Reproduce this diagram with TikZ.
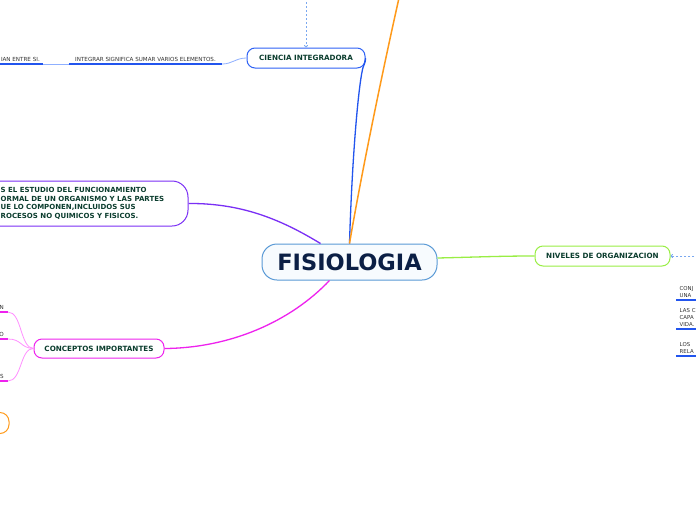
\documentclass[tikz,border=0pt]{standalone}
\usepackage{fontspec}
\setmainfont{DejaVu Sans}
\usetikzlibrary{arrows.meta}
\definecolor{fisborder}{HTML}{5A9AD6}
\definecolor{fisfill}{HTML}{F7FBFE}
\definecolor{fistext}{HTML}{0B1F45}
\definecolor{nodetxt}{HTML}{0B3D2E}
\definecolor{smalltxt}{HTML}{333333}
\definecolor{cblue}{HTML}{2F62F5}
\definecolor{cblueline}{HTML}{2255EE}
\definecolor{cbluelight}{HTML}{8FB0FF}
\definecolor{corange}{HTML}{FF9A1A}
\definecolor{cpurple}{HTML}{7A2FF5}
\definecolor{cmagenta}{HTML}{EE22EE}
\definecolor{cpink}{HTML}{FF90FF}
\definecolor{cgreen}{HTML}{99EE44}
\definecolor{cdash}{HTML}{7AA8F0}
\begin{document}
\begin{tikzpicture}[x=1pt,y=-1pt,
  box/.style={draw, line width=1pt, rounded corners=8pt, minimum height=20pt, inner sep=0pt,
    font=\bfseries\fontsize{7.2}{8}\selectfont, text=nodetxt},
  small/.style={font=\fontsize{5.6}{7}\selectfont, text=smalltxt, inner xsep=0pt, inner ysep=2pt},
  rsmall/.style={small, font=\fontsize{5.4}{7}\selectfont, align=left, text width=26pt, inner xsep=3.5pt, inner ysep=2pt, anchor=south west},
  conn/.style={line width=1.3pt},
  uline/.style={line width=1.8pt},
  dashconn/.style={draw=cdash, line width=0.8pt, dash pattern=on 2pt off 2pt, -{To[length=2.5pt,width=4pt]}}
]
\useasboundingbox (0,0) rectangle (696,520);
\clip (0,0) rectangle (696,520);
\fill[white] (0,0) rectangle (696,520);

% central node
\node[draw=fisborder, fill=fisfill, line width=1pt, rounded corners=15pt, minimum width=175pt, minimum height=36pt,
  inner sep=0pt, font=\bfseries\fontsize{22.5}{26}\selectfont, text=fistext] (fis) at (349.5,262) {FISIOLOGIA};

% ciencia integradora
\node[box, draw=cblue, minimum width=118pt] (ci) at (306,58) {CIENCIA INTEGRADORA};
\coordinate (ctop) at (306,-2);
\draw[dashconn] (ctop) -- (ci.north);
\draw[conn, cblueline] (fis.north) .. controls (352,160) and (358,90) .. ([xshift=-3pt,yshift=-1pt]ci.south east) .. controls (363,66) and (366,62) .. (ci.east);

% orange branch
\coordinate (otop) at (399,-2);
\draw[line width=1.5pt, corange] (fis.north) .. controls (362,170) and (385,60) .. (otop);

% integrar texts
\node[small, anchor=south, minimum width=153pt] (int) at (145.5,64) {INTEGRAR SIGNIFICA SUMAR VARIOS ELEMENTOS.};
\node[small, anchor=south east, inner xsep=3pt] (sis) at (43,64) {IAN ENTRE SI.};
\draw[line width=0.8pt, cbluelight] (ci.west) .. controls (236,58) and (232,64) .. (int.south east);
\draw[uline, cblueline] (int.south west) -- (int.south east);
\draw[uline, cblueline] (sis.south west) -- (sis.south east);
\draw[line width=0.6pt, cbluelight] (sis.south east) -- (int.south west);

% purple definition node
\node[draw=cpurple, line width=1pt, rounded corners=16pt, minimum width=228pt, minimum height=45pt, inner sep=0pt] (pur) at (74,203.5) {};
\node[anchor=west, align=left, inner sep=0pt, font=\bfseries\fontsize{7}{8.7}\selectfont, text=nodetxt] (purtxt) at (0.5,203.5)
  {S EL ESTUDIO DEL FUNCIONAMIENTO\\ORMAL DE UN ORGANISMO Y LAS PARTES\\UE LO COMPONEN,INCLUIDOS SUS\\ROCESOS NO QUIMICOS Y FISICOS.};
\draw[conn, cpurple] (pur.east) .. controls (245,203) and (285,222) .. ([xshift=-29pt]fis.north);

% conceptos importantes
\node[box, draw=cmagenta, minimum width=130pt, minimum height=19pt] (con) at (99,348.5) {CONCEPTOS IMPORTANTES};
\draw[conn, cmagenta] (con.east) .. controls (230,348) and (290,322) .. ([xshift=-20pt]fis.south);
\node[small, anchor=south east, inner xsep=4pt] (k1) at (8,312) {N};
\node[small, anchor=south east, inner xsep=4pt] (k2) at (8,339) {O};
\node[small, anchor=south east, inner xsep=4pt] (k3) at (8,381) {S};
\foreach \k in {k1,k2,k3}{
  \draw[uline, cmagenta] (\k.south west) -- (\k.south east);
  \draw[line width=0.8pt, cpink] (\k.south east) .. controls (22,0 |- \k.south east) and (20,348) .. (con.west);
}

% orange partial node
\node[draw=corange, line width=1pt, rounded corners=9pt, minimum width=40pt, minimum height=21pt, inner sep=0pt] (orn) at (-11,423) {};

% niveles de organizacion
\node[box, draw=cgreen, minimum width=135pt] (niv) at (602.5,256) {NIVELES DE ORGANIZACION};
\draw[conn, cgreen] ([yshift=4pt]fis.east) .. controls (480,257) and (500,256) .. (niv.west);
\coordinate (cright) at (698,256);
\draw[dashconn] (cright) -- (niv.east);

\node[rsmall] (r1) at (676,300) {CONJ\\UNA};
\node[rsmall] (r2) at (676,329) {LAS C\\CAPA\\VIDA.};
\node[rsmall] (r3) at (676,356) {LOS\\RELA};
\foreach \r in {r1,r2,r3}{
  \draw[uline, cblueline] (\r.south west) -- (\r.south east);
}
\end{tikzpicture}
\end{document}
